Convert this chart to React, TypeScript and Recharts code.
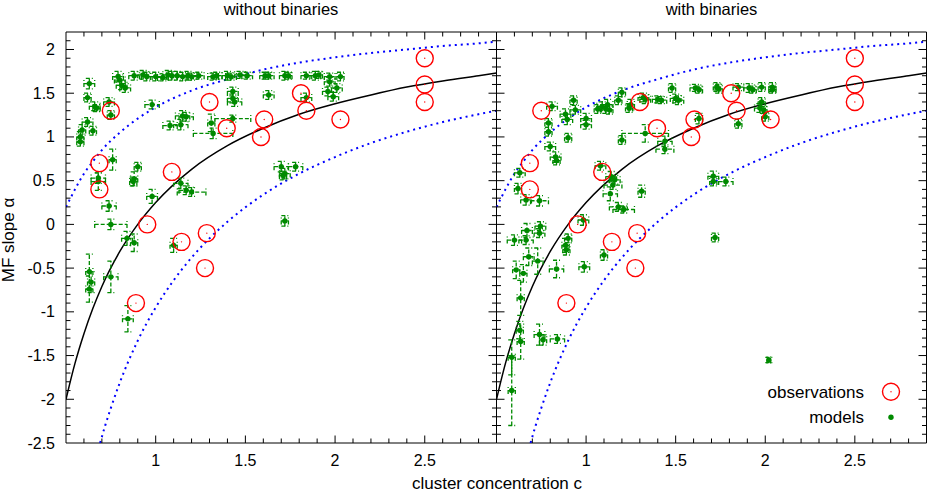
import React from 'react';
import { ComposedChart, Scatter, Line, XAxis, YAxis, ErrorBar, ReferenceArea, Legend } from 'recharts';

const W = 927;
const H = 492;
const TOP = 32;
const BOTTOM = 443;
const SPLIT = 496.5;
const FONT = '"Liberation Sans", Arial, Helvetica, sans-serif';
const GREEN = '#008a00';
const RED = '#ff0000';
const BLUE = '#0000ff';

// axis ticks: labelled every 0.5, minor ticks every 0.1
const X_LABELS = [1, 1.5, 2, 2.5];
const X_MINOR = [0.6, 0.7, 0.8, 0.9, 1.1, 1.2, 1.3, 1.4, 1.6, 1.7, 1.8, 1.9, 2.1, 2.2, 2.3, 2.4, 2.6, 2.7, 2.8];
const Y_LABELS = [-2.5, -2, -1.5, -1, -0.5, 0, 0.5, 1, 1.5, 2];
const Y_MINOR = [-2.4, -2.3, -2.2, -2.1, -1.9, -1.8, -1.7, -1.6, -1.4, -1.3, -1.2, -1.1, -0.9, -0.8, -0.7, -0.6, -0.4, -0.3, -0.2, -0.1, 0.1, 0.2, 0.3, 0.4, 0.6, 0.7, 0.8, 0.9, 1.1, 1.2, 1.3, 1.4, 1.6, 1.7, 1.8, 1.9, 2.1];

// observed clusters (same in both panels)
const OBS_C = [0.686, 0.686, 0.75, 0.89, 0.953, 1.09, 1.144, 1.275, 1.285, 1.3, 1.396, 1.587, 1.605, 1.81, 1.84, 2.03, 2.5, 2.5, 2.5];
const OBS_ALPHA = [0.7, 0.4, 1.3, -0.9, 0.0, 0.6, -0.2, -0.5, -0.1, 1.4, 1.1, 1.0, 1.2, 1.5, 1.3, 1.2, 1.9, 1.6, 1.4];

// fit curve and its envelope
const CURVE_C = [0.5, 0.52, 0.55, 0.6, 0.65, 0.7, 0.8, 0.9, 1.0, 1.2, 1.4, 1.6, 1.8, 2.0, 2.2, 2.4, 2.6, 2.8, 2.9];
const FIT = [-2.0, -1.83, -1.59, -1.25, -0.96, -0.71, -0.31, 0.0, 0.25, 0.63, 0.9, 1.1, 1.26, 1.38, 1.48, 1.57, 1.64, 1.7, 1.73];
const UPPER = [0.2, 0.28, 0.4, 0.58, 0.72, 0.85, 1.05, 1.21, 1.34, 1.53, 1.66, 1.77, 1.85, 1.91, 1.96, 2.0, 2.04, 2.07, 2.09];
const LOWER_C = [0.69, 0.72, 0.75, 0.8, 0.9, 1.0, 1.1, 1.2, 1.4, 1.6, 1.8, 2.0, 2.2, 2.4, 2.6, 2.8, 2.9];
const LOWER = [-2.5, -2.29, -2.1, -1.81, -1.33, -0.95, -0.64, -0.38, 0.03, 0.34, 0.58, 0.77, 0.93, 1.06, 1.17, 1.26, 1.3];

// models: [c, alpha, err c, err alpha]
const MODELS_NO_BIN = [
  [0.79, 1.69, 0.03, 0.06], [0.8, 1.65, 0.03, 0.06], [0.81, 1.59, 0.03, 0.05], [0.83, 1.56, 0.03, 0.05],
  [0.88, 1.7, 0.03, 0.05], [0.93, 1.71, 0.03, 0.05], [0.95, 1.69, 0.03, 0.05], [1.0, 1.69, 0.03, 0.05],
  [1.04, 1.68, 0.03, 0.04], [1.07, 1.71, 0.03, 0.05], [1.09, 1.7, 0.03, 0.05], [1.12, 1.7, 0.03, 0.05],
  [1.15, 1.69, 0.03, 0.05], [1.18, 1.7, 0.03, 0.05], [1.2, 1.69, 0.03, 0.04], [1.24, 1.7, 0.03, 0.04],
  [1.32, 1.69, 0.03, 0.04], [1.34, 1.7, 0.03, 0.04], [1.4, 1.7, 0.03, 0.05], [1.42, 1.69, 0.03, 0.04],
  [1.47, 1.71, 0.03, 0.04], [1.51, 1.7, 0.03, 0.04], [1.61, 1.7, 0.03, 0.04], [1.63, 1.7, 0.03, 0.04],
  [1.72, 1.7, 0.03, 0.05], [1.74, 1.7, 0.02, 0.04], [1.84, 1.7, 0.03, 0.04], [1.89, 1.7, 0.03, 0.05],
  [1.91, 1.71, 0.02, 0.04], [1.97, 1.69, 0.03, 0.04], [2.03, 1.69, 0.02, 0.05],
  [0.63, 1.61, 0.03, 0.06], [0.62, 1.45, 0.02, 0.05], [0.66, 1.35, 0.03, 0.05], [0.67, 1.33, 0.02, 0.04],
  [0.74, 1.4, 0.03, 0.05], [0.75, 1.25, 0.02, 0.05], [0.62, 1.17, 0.03, 0.05], [0.59, 1.08, 0.02, 0.06],
  [0.58, 1.0, 0.02, 0.06], [0.58, 0.945, 0.02, 0.05], [0.65, 1.07, 0.02, 0.05], [0.98, 1.37, 0.04, 0.05],
  [0.76, 0.74, 0.02, 0.12], [0.68, 0.53, 0.04, 0.06], [0.68, 0.49, 0.04, 0.1], [0.9, 0.66, 0.02, 0.05],
  [0.88, 0.52, 0.02, 0.08], [0.875, 0.49, 0.02, 0.05], [0.98, 0.32, 0.03, 0.08], [1.14, 0.47, 0.04, 0.06],
  [1.17, 0.39, 0.04, 0.05], [1.2, 0.37, 0.08, 0.05], [0.74, 0.21, 0.04, 0.06], [0.75, 0.0, 0.09, 0.06],
  [1.08, 1.13, 0.04, 0.05], [1.14, 1.14, 0.04, 0.06], [1.15, 1.24, 0.04, 0.06], [1.17, 1.23, 0.04, 0.05],
  [1.31, 1.16, 0.02, 0.1], [1.32, 1.04, 0.11, 0.06], [1.43, 1.52, 0.03, 0.05], [1.43, 1.44, 0.03, 0.05],
  [1.44, 1.4, 0.04, 0.05], [1.43, 1.21, 0.1, 0.04],
  [1.63, 1.48, 0.03, 0.05], [1.84, 1.45, 0.03, 0.05], [1.96, 1.52, 0.03, 0.05], [1.99, 1.46, 0.03, 0.05],
  [2.01, 1.56, 0.03, 0.05], [1.97, 1.63, 0.03, 0.05], [1.7, 0.66, 0.04, 0.06], [1.72, 0.58, 0.03, 0.06],
  [1.71, 0.56, 0.02, 0.05], [1.78, 0.66, 0.04, 0.05], [1.72, 0.04, 0.02, 0.06],
  [0.63, -0.54, 0.02, 0.2], [0.64, -0.66, 0.02, 0.12], [0.63, -0.74, 0.02, 0.15], [0.75, -0.6, 0.04, 0.18],
  [0.845, -1.08, 0.03, 0.15], [0.84, -0.16, 0.03, 0.08], [0.88, -0.21, 0.02, 0.1], [1.1, -0.24, 0.02, 0.08],
];

const MODELS_BIN = [
  [0.81, 1.35, 0.03, 0.05], [0.79, 1.16, 0.02, 0.05], [0.79, 1.06, 0.02, 0.05], [0.8, 0.89, 0.03, 0.05],
  [0.83, 0.77, 0.03, 0.06], [0.835, 0.73, 0.02, 0.05], [0.895, 1.2, 0.03, 0.06], [0.885, 1.26, 0.03, 0.06],
  [0.9, 0.99, 0.02, 0.05], [0.93, 1.42, 0.02, 0.05], [0.94, 1.31, 0.03, 0.05], [1.0, 1.21, 0.03, 0.06],
  [1.0, 1.14, 0.03, 0.05], [1.065, 1.32, 0.02, 0.05], [1.09, 1.35, 0.03, 0.05], [1.11, 1.32, 0.03, 0.05],
  [1.12, 1.37, 0.03, 0.06], [1.13, 1.31, 0.02, 0.05], [1.18, 1.42, 0.02, 0.05], [1.2, 1.51, 0.02, 0.05],
  [1.24, 1.33, 0.02, 0.05], [1.25, 1.37, 0.02, 0.06], [1.32, 1.45, 0.03, 0.05], [1.33, 1.43, 0.03, 0.05],
  [1.4, 1.43, 0.03, 0.04], [1.42, 1.42, 0.03, 0.04], [1.48, 1.56, 0.02, 0.05], [1.5, 1.44, 0.03, 0.05],
  [1.515, 1.42, 0.03, 0.05], [1.61, 1.56, 0.03, 0.04], [1.63, 1.54, 0.02, 0.04], [1.63, 1.21, 0.02, 0.06],
  [1.73, 1.57, 0.02, 0.05], [1.74, 1.55, 0.02, 0.05], [1.85, 1.57, 0.03, 0.04], [1.91, 1.56, 0.03, 0.05],
  [1.93, 1.54, 0.02, 0.04], [1.98, 1.57, 0.02, 0.05], [2.04, 1.57, 0.02, 0.05], [2.04, 1.54, 0.02, 0.04],
  [1.98, 1.4, 0.02, 0.05], [1.97, 1.33, 0.03, 0.05], [1.99, 1.31, 0.02, 0.04], [2.0, 1.23, 0.02, 0.05],
  [1.85, 1.15, 0.02, 0.05],
  [0.63, 0.59, 0.03, 0.05], [0.62, 0.41, 0.02, 0.06], [0.665, 0.28, 0.03, 0.06], [0.74, 0.27, 0.05, 0.06],
  [1.33, 1.04, 0.13, 0.1], [1.2, 0.965, 0.02, 0.05], [1.44, 0.95, 0.04, 0.06], [1.44, 0.86, 0.05, 0.05],
  [1.08, 0.67, 0.03, 0.05], [1.14, 0.545, 0.03, 0.06], [1.16, 0.51, 0.03, 0.05], [1.15, 0.45, 0.05, 0.05],
  [1.135, 0.35, 0.04, 0.08], [1.31, 0.38, 0.02, 0.07], [1.18, 0.2, 0.05, 0.05], [1.21, 0.17, 0.06, 0.04],
  [0.985, 0.05, 0.03, 0.06], [1.71, 0.55, 0.03, 0.06], [1.71, 0.49, 0.02, 0.05], [1.78, 0.49, 0.04, 0.05],
  [1.72, -0.15, 0.02, 0.05], [2.02, -1.55, 0.01, 0.03],
  [0.745, -0.02, 0.03, 0.05], [0.6, -0.18, 0.04, 0.06], [0.665, -0.18, 0.04, 0.05], [0.74, -0.1, 0.03, 0.05],
  [0.67, -0.07, 0.03, 0.08], [0.61, -0.52, 0.02, 0.1], [0.65, -0.56, 0.02, 0.1], [0.68, -0.37, 0.03, 0.1],
  [0.73, -0.42, 0.03, 0.15], [0.635, -0.84, 0.02, 0.2], [0.835, -0.51, 0.04, 0.1], [0.885, -0.24, 0.02, 0.08],
  [0.89, -0.29, 0.02, 0.06], [0.9, -0.16, 0.02, 0.05], [0.99, -0.485, 0.03, 0.06], [1.1, -0.35, 0.02, 0.06],
  [0.63, -1.21, 0.02, 0.1], [0.635, -1.34, 0.02, 0.2], [0.74, -1.26, 0.03, 0.12], [0.76, -1.32, 0.02, 0.06],
  [0.84, -1.31, 0.04, 0.05], [0.585, -1.52, 0.02, 0.2], [0.585, -1.9, 0.02, 0.4],
];

const X_DOMAIN: [number, number] = [0.5, 2.9];
const Y_DOMAIN: [number, number] = [-2.5, 2.2];

const toRows = (rows: number[][]) => rows.map(([x, y, ex, ey]) => ({ x, y, ex, ey }));
const obsData = OBS_C.map((x, i) => ({ x, y: OBS_ALPHA[i] }));
const fitData = CURVE_C.map((x, i) => ({ x, y: FIT[i] }));
const upperData = CURVE_C.map((x, i) => ({ x, y: UPPER[i] }));
const lowerData = LOWER_C.map((x, i) => ({ x, y: LOWER[i] }));

// tick marks sit on the frame and point inwards (gnuplot style), on all four sides
const xMarks = [...X_LABELS.map((x) => ({ x, major: true })), ...X_MINOR.map((x) => ({ x, major: false }))];
const yMarks = [...Y_LABELS.filter((y) => y > Y_DOMAIN[0]).map((y) => ({ y, major: true })), ...Y_MINOR.map((y) => ({ y, major: false }))];
const bottomMarks = xMarks.map((m) => ({ ...m, y: Y_DOMAIN[0] }));
const topMarks = xMarks.map((m) => ({ ...m, y: Y_DOMAIN[1] }));
const leftMarks = yMarks.map((m) => ({ ...m, x: X_DOMAIN[0] }));
const rightMarks = yMarks.map((m) => ({ ...m, x: X_DOMAIN[1] }));

const tickLen = (p: any, major: number) => (p.payload?.major ? major : 4.5);
const BottomTick = (p: any) => <line x1={p.cx} x2={p.cx} y1={p.cy} y2={p.cy - tickLen(p, 7.5)} stroke="#000" strokeWidth={1} />;
const TopTick = (p: any) => <line x1={p.cx} x2={p.cx} y1={p.cy} y2={p.cy + tickLen(p, 7.5)} stroke="#000" strokeWidth={1} />;
const LeftTick = (p: any) => <line x1={p.cx} x2={p.cx + tickLen(p, 8)} y1={p.cy} y2={p.cy} stroke="#000" strokeWidth={1} />;
const RightTick = (p: any) => <line x1={p.cx} x2={p.cx - tickLen(p, 8)} y1={p.cy} y2={p.cy} stroke="#000" strokeWidth={1} />;

function XLabel(props: any) {
  const x = props.payload?.coordinate ?? props.x;
  return (
    <text x={x} y={466} textAnchor="middle" fontFamily={FONT} fontSize={16} fill="#000">
      {String(props.payload?.value)}
    </text>
  );
}

function YLabel(props: any) {
  const y = props.payload?.coordinate ?? props.y;
  return (
    <text x={55} y={y + 5.5} textAnchor="end" fontFamily={FONT} fontSize={16} fill="#000">
      {String(props.payload?.value)}
    </text>
  );
}

const GreenDot = (p: any) => <circle cx={p.cx} cy={p.cy} r={2.7} fill={GREEN} />;

const RedRing = (p: any) => (
  <g>
    <circle cx={p.cx} cy={p.cy} r={8.5} fill="none" stroke={RED} strokeWidth={1.4} />
    <circle cx={p.cx} cy={p.cy} r={0.7} fill={RED} />
  </g>
);

const LegendBox = () => (
  <svg width={160} height={60}>
    <text x={104} y={22.7} textAnchor="end" fontFamily={FONT} fontSize={17} fill="#000">observations</text>
    <circle cx={131} cy={16.7} r={8.5} fill="none" stroke={RED} strokeWidth={1.4} />
    <circle cx={131} cy={16.7} r={0.7} fill={RED} />
    <text x={104} y={48} textAnchor="end" fontFamily={FONT} fontSize={17} fill="#000">models</text>
    <circle cx={131} cy={42.3} r={2.7} fill={GREEN} />
  </svg>
);

function Panel({ models, plotLeft, plotRight, labels, legend }: any) {
  return (
    <div style={{ position: 'absolute', left: 0, top: 0 }}>
      <ComposedChart
        width={W}
        height={H}
        margin={{ top: TOP, right: W - plotRight, bottom: H - BOTTOM - 30, left: plotLeft - 60 }}
      >
        <XAxis
          type="number"
          dataKey="x"
          domain={X_DOMAIN}
          ticks={X_LABELS}
          interval={0}
          allowDataOverflow
          axisLine={false}
          tickLine={false}
          height={30}
          tick={<XLabel />}
        />
        <YAxis
          type="number"
          dataKey="y"
          domain={Y_DOMAIN}
          ticks={Y_LABELS}
          interval={0}
          allowDataOverflow
          axisLine={false}
          tickLine={false}
          width={60}
          tick={labels ? <YLabel /> : false}
        />
        <ReferenceArea x1={0.5} x2={2.9} y1={-2.5} y2={2.2} fill="none" fillOpacity={0} stroke="#000" strokeWidth={1} />
        <Scatter data={bottomMarks} dataKey="y" shape={BottomTick} isAnimationActive={false} legendType="none" />
        <Scatter data={topMarks} dataKey="y" shape={TopTick} isAnimationActive={false} legendType="none" />
        <Scatter data={leftMarks} dataKey="y" shape={LeftTick} isAnimationActive={false} legendType="none" />
        <Scatter data={rightMarks} dataKey="y" shape={RightTick} isAnimationActive={false} legendType="none" />
        <Line data={upperData} dataKey="y" type="monotone" dot={false} stroke={BLUE} strokeWidth={2} strokeDasharray="2 4" isAnimationActive={false} />
        <Line data={lowerData} dataKey="y" type="monotone" dot={false} stroke={BLUE} strokeWidth={2} strokeDasharray="2 4" isAnimationActive={false} />
        <Line data={fitData} dataKey="y" type="monotone" dot={false} stroke="#000" strokeWidth={1.5} isAnimationActive={false} />
        <Scatter data={toRows(models)} dataKey="y" shape={GreenDot} isAnimationActive={false}>
          <ErrorBar dataKey="ex" direction="x" width={3.5} stroke={GREEN} strokeWidth={1.3} strokeDasharray="4 2" />
          <ErrorBar dataKey="ey" direction="y" width={3.5} stroke={GREEN} strokeWidth={1.3} strokeDasharray="4 2" />
        </Scatter>
        <Scatter data={obsData} dataKey="y" shape={RedRing} isAnimationActive={false} />
        {legend && (
          <Legend
            layout="vertical"
            align="center"
            verticalAlign="middle"
            content={LegendBox}
            wrapperStyle={{ left: 760, top: 375, width: 160, height: 60 }}
          />
        )}
      </ComposedChart>
    </div>
  );
}

export default function App() {
  return (
    <div style={{ position: 'absolute', left: 0, top: 0, width: W, height: H, background: '#fff' }}>
      <Panel models={MODELS_NO_BIN} plotLeft={66} plotRight={SPLIT} labels legend={false} />
      <Panel models={MODELS_BIN} plotLeft={SPLIT} plotRight={926.5} labels={false} legend />
      <svg width={W} height={H} style={{ position: 'absolute', left: 0, top: 0, pointerEvents: 'none' }}>
        <text x={281} y={15} textAnchor="middle" fontFamily={FONT} fontSize={16.5} fill="#000">without binaries</text>
        <text x={711.5} y={15} textAnchor="middle" fontFamily={FONT} fontSize={16.5} fill="#000">with binaries</text>
        <text x={497} y={489} textAnchor="middle" fontFamily={FONT} fontSize={17} fill="#000">cluster concentration c</text>
        <text transform="translate(14,240) rotate(-90)" textAnchor="middle" fontFamily={FONT} fontSize={17} fill="#000">MF slope α</text>
      </svg>
    </div>
  );
}
